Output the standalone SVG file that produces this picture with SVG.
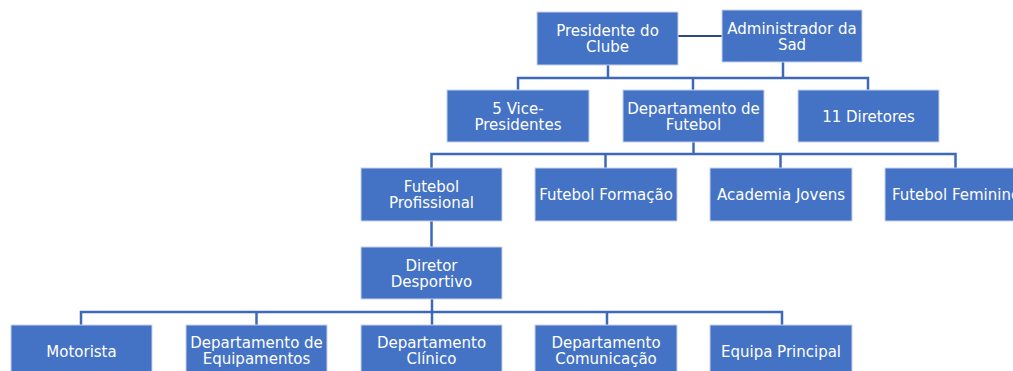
<svg xmlns="http://www.w3.org/2000/svg" width="1013" height="371" viewBox="0 0 1013 371">
<style>
.box{fill:#4472C4;stroke:#c5d3ec;stroke-width:1}
.t{font-family:"DejaVu Sans",Verdana,sans-serif;font-size:15px;fill:#ffffff;text-anchor:middle}
.c{fill:none;stroke:#3d69b8;stroke-width:2.5}
.k{fill:none;stroke:#2f4b7c;stroke-width:2}
</style>
<rect width="1013" height="371" fill="#ffffff"/>
<g id="connectors">
<path class="k" d="M678,36 H722"/>
<path class="c" d="M608,65 V78 M783,62 V78 M518,90 V78 H868 V90 M693,78 V90"/>
<path class="c" d="M693.5,142 V154 M431.5,168 V154 H955.5 V168 M605.5,154 V168 M780.5,154 V168"/>
<path class="c" d="M431.5,221 V247"/>
<path class="c" d="M432,299 V312 M81,325 V312 H782 V325 M256.5,312 V325 M432,312 V325 M607,312 V325"/>
</g>
<g id="presidente"><rect class="box" x="537" y="12" width="141" height="53"/><text class="t" x="607.5" y="36">Presidente do</text><text class="t" x="607.5" y="52">Clube</text></g>
<g id="administrador"><rect class="box" x="722" y="10" width="140" height="52"/><text class="t" x="792" y="33.5">Administrador da</text><text class="t" x="792" y="49.5">Sad</text></g>
<g id="vice"><rect class="box" x="447" y="90" width="142" height="52"/><text class="t" x="518" y="113.5">5 Vice-</text><text class="t" x="518" y="129.5">Presidentes</text></g>
<g id="depfutebol"><rect class="box" x="623" y="90" width="141" height="52"/><text class="t" x="693.5" y="113.5">Departamento de</text><text class="t" x="693.5" y="129.5">Futebol</text></g>
<g id="diretores"><rect class="box" x="798" y="90" width="141" height="52"/><text class="t" x="868.5" y="121.5">11 Diretores</text></g>
<g id="futprof"><rect class="box" x="361" y="168" width="141" height="53"/><text class="t" x="431.5" y="191.5">Futebol</text><text class="t" x="431.5" y="207.5">Profissional</text></g>
<g id="futform"><rect class="box" x="535" y="168" width="142" height="53"/><text class="t" x="606" y="199.5">Futebol Formação</text></g>
<g id="academia"><rect class="box" x="710" y="168" width="142" height="53"/><text class="t" x="781" y="199.5">Academia Jovens</text></g>
<g id="futfem"><rect class="box" x="885" y="168" width="142" height="53"/><text class="t" x="956" y="199.5">Futebol Feminino</text></g>
<g id="diretor"><rect class="box" x="361" y="247" width="141" height="52"/><text class="t" x="431.5" y="270.5">Diretor</text><text class="t" x="431.5" y="286.5">Desportivo</text></g>
<g id="motorista"><rect class="box" x="11" y="325" width="141" height="52"/><text class="t" x="81.5" y="356.5">Motorista</text></g>
<g id="equipamentos"><rect class="box" x="186" y="325" width="141" height="52"/><text class="t" x="256.5" y="348">Departamento de</text><text class="t" x="256.5" y="364">Equipamentos</text></g>
<g id="clinico"><rect class="box" x="361" y="325" width="141" height="52"/><text class="t" x="431.5" y="348">Departamento</text><text class="t" x="431.5" y="364">Clínico</text></g>
<g id="comunicacao"><rect class="box" x="535" y="325" width="142" height="52"/><text class="t" x="606" y="348">Departamento</text><text class="t" x="606" y="364">Comunicação</text></g>
<g id="equipa"><rect class="box" x="710" y="325" width="142" height="52"/><text class="t" x="781" y="356.5">Equipa Principal</text></g>
</svg>
